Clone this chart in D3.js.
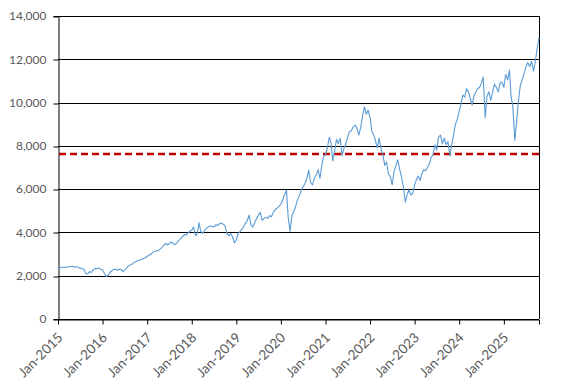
<!DOCTYPE html>
<html><head><meta charset="utf-8">
<script src="https://cdn.jsdelivr.net/npm/d3@7"></script>
<style>body{margin:0;background:#fff}svg{display:block}</style>
</head><body><svg id="c" width="567" height="383"></svg>
<script>
// Semi-monthly samples (1st and 16th of each month), Jan-2015 .. Oct-2025
const startDate = "2015-01-01";
const values = [
// 2015
2300,2390, 2370,2400, 2380,2410, 2400,2430, 2440,2390, 2420,2380, 2350,2330, 2300,2110, 2080,2190, 2150,2260, 2340,2320, 2360,2290,
// 2016
2270,2100, 1970,2020, 2150,2220, 2290,2310, 2250,2300, 2290,2190, 2270,2350, 2450,2500, 2540,2620, 2660,2700, 2730,2760, 2800,2830,
// 2017
2900,2950, 3000,3080, 3120,3150, 3160,3230, 3300,3400, 3500,3420, 3480,3560, 3500,3430, 3520,3620, 3700,3800, 3900,3880, 3980,4050,
// 2018
4100,4250, 3850,3960, 4450,4050, 3950,4100, 4200,4250, 4300,4280, 4250,4350, 4330,4400, 4420,4380, 4300,3950, 3850,3950, 3800,3520,
// 2019
3650,3950, 4050,4150, 4250,4420, 4550,4800, 4350,4250, 4450,4650, 4800,4930, 4560,4650, 4700,4650, 4780,4720, 4950,5050, 5120,5200,
// 2020
5300,5500, 5750,5950, 4700,4050, 4800,4950, 5200,5500, 5700,5950, 6100,6250, 6500,6880, 6300,6190, 6500,6650, 6900,6500, 7100,7500,
// 2021
7600,7900, 8400,8100, 7300,7750, 8300,8100, 8350,7550, 7900,8100, 8400,8650, 8700,8880, 8960,8800, 8500,8850, 9400,9800, 9450,9650,
// 2022
9300,8650, 8500,8190, 7900,8350, 7850,7580, 7100,7250, 6700,6580, 6200,6800, 7100,7350, 6900,6550, 6100,5400, 5750,5960, 5730,5800,
// 2023
6200,6450, 6600,6400, 6700,6900, 6850,7000, 7150,7450, 7600,8050, 7800,8400, 8500,8100, 8350,8050, 8200,7550, 8050,8500, 9000,9200,
// 2024
9600,9950, 10350,10250, 10650,10500, 10200,9880, 10300,10500, 10650,10700, 10900,11180, 9300,10300, 10500,10100, 10500,10850, 10700,10500, 10900,10950,
// 2025
10700,11300, 11050,11500, 10300,9800, 8250,9150, 10100,10800, 11050,11350, 11650,11850, 11650,11900, 11450,11900, 12500,13000
];
const referenceLevel = 7620;
const yTicks = [0,2000,4000,6000,8000,10000,12000,14000];
const xTickYears = [2015,2016,2017,2018,2019,2020,2021,2022,2023,2024,2025];

const parse = d3.timeParse("%Y-%m-%d");
const t0 = parse(startDate);
const data = values.map((v,i)=>{
  const m = Math.floor(i/2);
  const d = new Date(t0.getFullYear(), t0.getMonth()+m, i%2 ? 16 : 1);
  return {date:d, value:v};
});

const M = {left:58, top:16, right:539, bottom:319};
const svg = d3.select("#c");
const x = d3.scaleTime().domain(d3.extent(data,d=>d.date)).range([M.left,M.right]);
const y = d3.scaleLinear().domain([0,14000]).range([M.bottom,M.top]);

const font = "Lato, 'Open Sans', sans-serif";
const txtCol = "#595959";

// gridlines
svg.append("g").selectAll("line").data(yTicks).join("line")
  .attr("x1",M.left).attr("x2",M.right)
  .attr("y1",d=>Math.round(y(d))+0.5).attr("y2",d=>Math.round(y(d))+0.5)
  .attr("stroke","#000").attr("stroke-width",1);
// right border
svg.append("line").attr("x1",M.right+0.5).attr("x2",M.right+0.5)
  .attr("y1",y(14000)).attr("y2",y(0)).attr("stroke","#000");

// y axis
const yAxis = d3.axisLeft(y).tickValues(yTicks).tickSize(5).tickPadding(7)
  .tickFormat(d3.format(","));
const gy = svg.append("g").attr("transform",`translate(${M.left+0.5},0)`).call(yAxis);
gy.select(".domain").attr("stroke","#000");
gy.selectAll(".tick line").attr("stroke","#000").attr("transform",d=>`translate(0,${Math.round(y(d))+0.5-y(d)})`);
gy.selectAll("text").attr("fill",txtCol).style("font-family",font).style("font-size","12px");

// x axis
const xAxis = d3.axisBottom(x).tickValues(xTickYears.map(yy=>new Date(yy,0,1)))
  .tickSize(5).tickFormat(d3.timeFormat("Jan-%Y"));
const gx = svg.append("g").attr("transform",`translate(0,${M.bottom+0.5})`).call(xAxis);
gx.select(".domain").attr("stroke","#000");
gx.selectAll(".tick line").attr("stroke","#000");
gx.selectAll("text").attr("fill",txtCol).style("font-family",font).style("font-size","13.5px")
  .attr("text-anchor","end").attr("x",0).attr("y",0).attr("dx",0).attr("dy",0)
  .attr("transform","translate(5,19) rotate(-45)");

// reference dashed line
svg.append("line").attr("x1",M.left+1).attr("x2",M.right)
  .attr("y1",y(referenceLevel)).attr("y2",y(referenceLevel))
  .attr("stroke","#C00000").attr("stroke-width",2.5).attr("stroke-dasharray","7,4");

// series line
svg.append("path").datum(data)
  .attr("fill","none").attr("stroke","#5B9BD5").attr("stroke-width",1.1)
  .attr("stroke-linejoin","round")
  .attr("d",d3.line().x(d=>x(d.date)).y(d=>y(d.value)));
</script></body></html>
